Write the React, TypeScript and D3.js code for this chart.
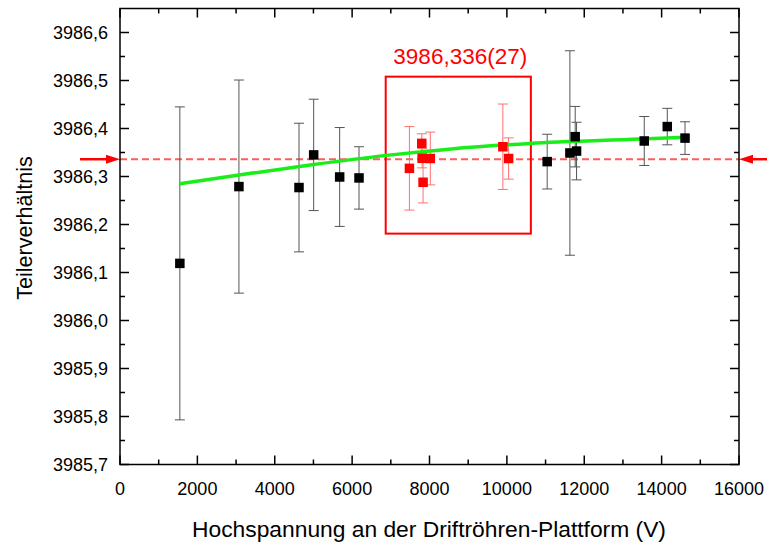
import React from "react";
import * as d3 from "d3";

const xTicks = [0, 2000, 4000, 6000, 8000, 10000, 12000, 14000, 16000];
const yTicks = [3985.7, 3985.8, 3985.9, 3986.0, 3986.1, 3986.2, 3986.3, 3986.4, 3986.5, 3986.6];

const blackX = [1547, 3074, 4627, 5006, 5678, 6178, 11042, 11629, 11766, 11801, 13551, 14146, 14605];
const blackY = [3986.119, 3986.279, 3986.277, 3986.345, 3986.299, 3986.297, 3986.331, 3986.349, 3986.383, 3986.353, 3986.374, 3986.404, 3986.380];
const blackErr = [0.326, 0.222, 0.134, 0.116, 0.103, 0.065, 0.057, 0.213, 0.063, 0.06, 0.051, 0.038, 0.034];

const redX = [7481, 7800, 7810, 7834, 8021, 9896, 10045];
const redY = [3986.317, 3986.369, 3986.338, 3986.288, 3986.3375, 3986.362, 3986.3375];
const redErr = [0.087, 0.02, 0.02, 0.043, 0.055, 0.089, 0.043];

const fitX = [1547, 3074, 5006, 6885, 8500, 10592, 13440, 14605];
const fitY = [3986.285, 3986.303, 3986.325, 3986.344, 3986.357, 3986.369, 3986.378, 3986.382];

const meanValue = 3986.336;
const meanLabel = "3986,336(27)";
const boxX = [6868, 10620];
const boxY = [3986.181, 3986.508];

const xTitle = "Hochspannung an der Driftröhren-Plattform (V)";
const yTitle = "Teilerverhältnis";

const W = 767, H = 545;
const L = 120, R = 739, T = 8.5, B = 464.5;

export default function App() {
  const x = d3.scaleLinear().domain([0, 16000]).range([L, R]);
  const y = d3.scaleLinear().domain([3985.7, 3986.65]).range([B, T]);
  const fmt = (v: number) => v.toFixed(1).replace(".", ",");
  const xMinor = d3.range(1000, 16000, 2000);
  const yMinor = d3.range(0, 19).map((i) => 3985.75 + i * 0.1).filter((v) => v < 3986.65);
  const line = d3
    .line<number>()
    .x((_, i) => x(fitX[i]))
    .y((d) => y(d))
    .curve(d3.curveMonotoneX);
  const font = "'Liberation Sans', Arial, sans-serif";
  const ym = y(meanValue);
  const cap = 5;
  const sq = 9.5;

  return (
    <svg width={W} height={H} style={{ position: "absolute", left: 0, top: 0, background: "#fff" }} fontFamily={font}>
      <rect x={0} y={0} width={W} height={H} fill="#fff" />
      {/* mean dashed line */}
      <line x1={L} x2={R} y1={ym} y2={ym} stroke="#ff5c5c" strokeWidth={2} strokeDasharray="7,4" />
      {/* arrows */}
      <line x1={80} x2={108} y1={ym} y2={ym} stroke="#ff0000" strokeWidth={2.5} />
      <path d={`M${L},${ym} L${L - 14},${ym - 4.5} L${L - 14},${ym + 4.5} Z`} fill="#ff0000" />
      <line x1={W} x2={R + 12} y1={ym} y2={ym} stroke="#ff0000" strokeWidth={2.5} />
      <path d={`M${R},${ym} L${R + 14},${ym - 4.5} L${R + 14},${ym + 4.5} Z`} fill="#ff0000" />
      {/* box */}
      <rect x={x(boxX[0])} y={y(boxY[1])} width={x(boxX[1]) - x(boxX[0])} height={y(boxY[0]) - y(boxY[1])} fill="none" stroke="#ff0000" strokeWidth={2} />
      <text x={(x(boxX[0]) + x(boxX[1])) / 2 + 2} y={64} textAnchor="middle" fill="#ff0000" fontSize={22.5}>{meanLabel}</text>
      {/* error bars black */}
      {blackX.map((v, i) => (
        <g key={"be" + i} stroke="#555" strokeWidth={1}>
          <line x1={x(v)} x2={x(v)} y1={y(blackY[i] - blackErr[i])} y2={y(blackY[i] + blackErr[i])} />
          <line x1={x(v) - cap} x2={x(v) + cap} y1={y(blackY[i] - blackErr[i])} y2={y(blackY[i] - blackErr[i])} />
          <line x1={x(v) - cap} x2={x(v) + cap} y1={y(blackY[i] + blackErr[i])} y2={y(blackY[i] + blackErr[i])} />
        </g>
      ))}
      {redX.map((v, i) => (
        <g key={"re" + i} stroke="#ff7070" strokeWidth={1}>
          <line x1={x(v)} x2={x(v)} y1={y(redY[i] - redErr[i])} y2={y(redY[i] + redErr[i])} />
          <line x1={x(v) - cap} x2={x(v) + cap} y1={y(redY[i] - redErr[i])} y2={y(redY[i] - redErr[i])} />
          <line x1={x(v) - cap} x2={x(v) + cap} y1={y(redY[i] + redErr[i])} y2={y(redY[i] + redErr[i])} />
        </g>
      ))}
      {/* fit */}
      <path d={line(fitY) || ""} fill="none" stroke="#1aee1a" strokeWidth={3.5} />
      {/* markers */}
      {blackX.map((v, i) => (
        <rect key={"b" + i} x={x(v) - sq / 2} y={y(blackY[i]) - sq / 2} width={sq} height={sq} fill="#000" />
      ))}
      {redX.map((v, i) => (
        <rect key={"r" + i} x={x(v) - sq / 2} y={y(redY[i]) - sq / 2} width={sq} height={sq} fill="#ff0000" />
      ))}
      {/* frame */}
      <rect x={L} y={T} width={R - L} height={B - T} fill="none" stroke="#000" strokeWidth={1.5} />
      {xTicks.map((v) => (
        <g key={"xt" + v}>
          <line x1={x(v)} x2={x(v)} y1={B} y2={B - 9} stroke="#000" strokeWidth={1.5} />
          <line x1={x(v)} x2={x(v)} y1={T} y2={T + 9} stroke="#000" strokeWidth={1.5} />
          <text x={x(v)} y={495} textAnchor="middle" fontSize={18} fill="#000">{v}</text>
        </g>
      ))}
      {xMinor.map((v) => (
        <g key={"xm" + v}>
          <line x1={x(v)} x2={x(v)} y1={B} y2={B - 5} stroke="#000" strokeWidth={1.5} />
          <line x1={x(v)} x2={x(v)} y1={T} y2={T + 5} stroke="#000" strokeWidth={1.5} />
        </g>
      ))}
      {yTicks.map((v) => (
        <g key={"yt" + v}>
          <line x1={L} x2={L + 9} y1={y(v)} y2={y(v)} stroke="#000" strokeWidth={1.5} />
          <line x1={R} x2={R - 9} y1={y(v)} y2={y(v)} stroke="#000" strokeWidth={1.5} />
          <text x={108} y={y(v) + 6.5} textAnchor="end" fontSize={18} fill="#000">{fmt(v)}</text>
        </g>
      ))}
      {yMinor.map((v) => (
        <g key={"ym" + v}>
          <line x1={L} x2={L + 5} y1={y(v)} y2={y(v)} stroke="#000" strokeWidth={1.5} />
          <line x1={R} x2={R - 5} y1={y(v)} y2={y(v)} stroke="#000" strokeWidth={1.5} />
        </g>
      ))}
      <text x={429} y={537} textAnchor="middle" fontSize={22.8} fill="#000">{xTitle}</text>
      <text transform={`translate(32,228) rotate(-90)`} textAnchor="middle" fontSize={21.5} fill="#000">{yTitle}</text>
    </svg>
  );
}
